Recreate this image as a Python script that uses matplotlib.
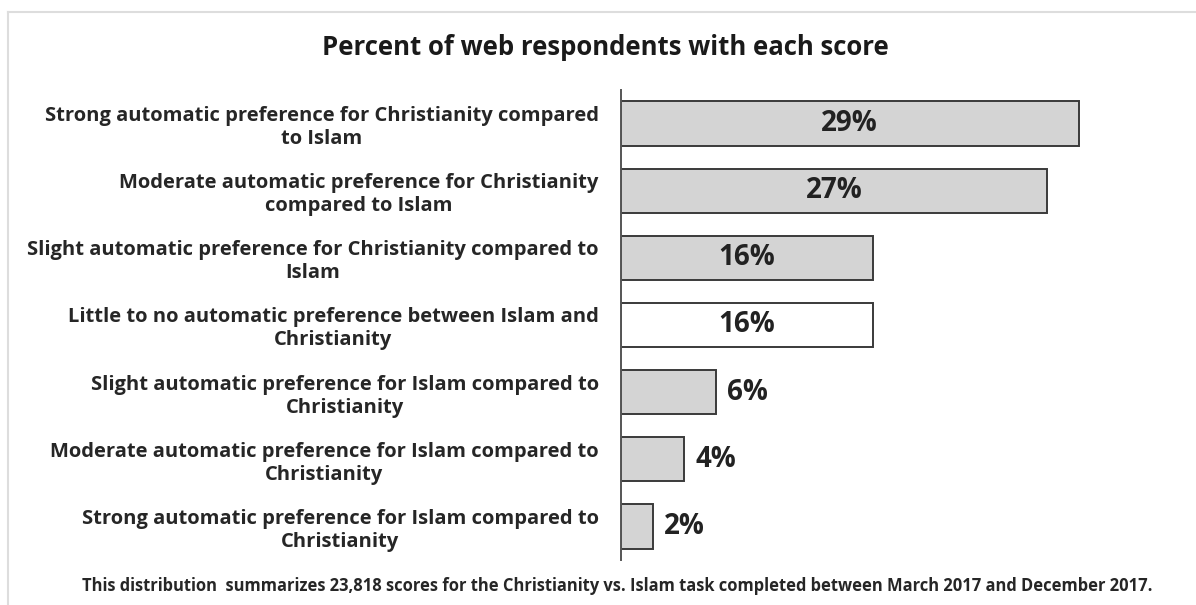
import matplotlib.pyplot as plt
from matplotlib.lines import Line2D

plt.rcParams["font.family"] = ["Open Sans", "DejaVu Sans"]

categories = [
    "Strong automatic preference for Christianity compared\nto Islam",
    "Moderate automatic preference for Christianity\ncompared to Islam",
    "Slight automatic preference for Christianity compared to\nIslam",
    "Little to no automatic preference between Islam and\nChristianity",
    "Slight automatic preference for Islam compared to\nChristianity",
    "Moderate automatic preference for Islam compared to\nChristianity",
    "Strong automatic preference for Islam compared to\nChristianity",
]
percents = [29, 27, 16, 16, 6, 4, 2]
fills = ["#d4d4d4", "#d4d4d4", "#d4d4d4", "#ffffff", "#d4d4d4", "#d4d4d4", "#d4d4d4"]

fig = plt.figure(figsize=(11.96, 6.05), dpi=100)
ax = fig.add_axes([0.5192, 0.0744, 0.467, 0.7769])

ypos = list(range(len(categories)))
ax.barh(ypos, percents, height=0.66, color=fills, edgecolor="#3a3a3a", linewidth=1.4)

for y, p in zip(ypos, percents):
    if p >= 10:
        ax.text(p / 2, y, f"{p}%", ha="center", va="center",
                fontsize=20, fontweight="bold", color="#222222")
    else:
        ax.text(p + 0.75, y, f"{p}%", ha="left", va="center",
                fontsize=20, fontweight="bold", color="#222222")

ax.set_xlim(0, 35.4)
ax.set_ylim(len(categories) - 0.5, -0.5)
ax.set_yticks(ypos)
ax.set_yticklabels(categories, fontsize=14.5, fontweight="bold", color="#262626",
                   linespacing=1.2)
for lbl in ax.get_yticklabels():
    lbl.set_multialignment("center")
ax.tick_params(axis="y", length=0, pad=16)
ax.set_xticks([])
for side in ["top", "right", "bottom"]:
    ax.spines[side].set_visible(False)
ax.spines["left"].set_color("#555555")
ax.spines["left"].set_linewidth(1.4)

fig.text(0.506, 0.922, "Percent of web respondents with each score",
         ha="center", va="center", fontsize=18.5, fontweight="bold", color="#1a1a1a")
fig.text(0.516, 0.031,
         "This distribution  summarizes 23,818 scores for the Christianity vs. Islam task completed between March 2017 and December 2017.",
         ha="center", va="center", fontsize=11.9, fontweight="bold", color="#262626")

# light frame at top and left
fig.add_artist(Line2D([0.0067, 1.0], [0.980, 0.980], color="#dddddd", linewidth=1.5))
fig.add_artist(Line2D([0.0067, 0.0067], [0.0, 0.980], color="#dddddd", linewidth=1.5))

fig.savefig("out.png", dpi=100)
